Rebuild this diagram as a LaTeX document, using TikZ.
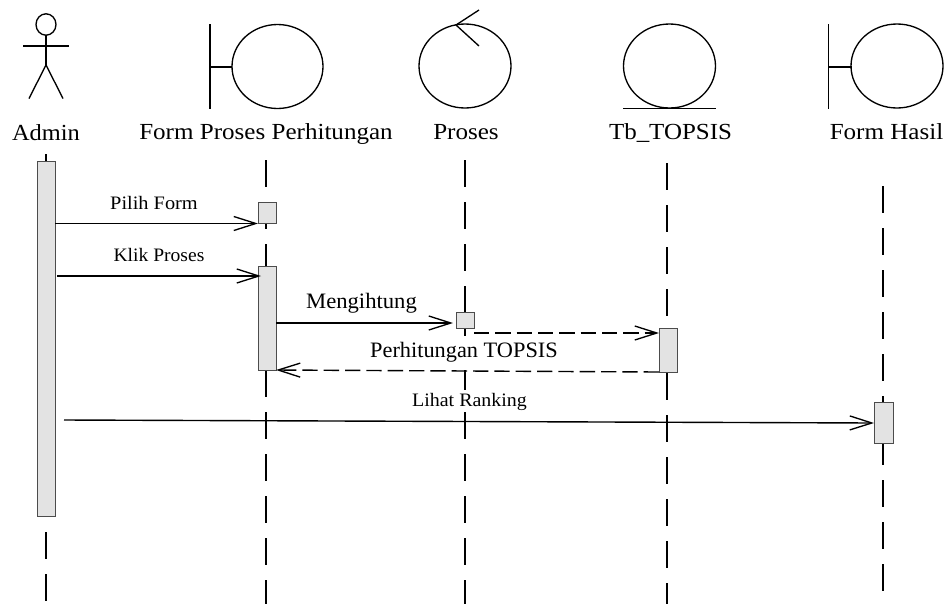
\documentclass[tikz,border=0pt]{standalone}
\usepackage{graphicx}
\usepackage{fontspec}
\setmainfont{Liberation Serif}
\usetikzlibrary{arrows.meta}
\newcommand{\sx}[2]{\scalebox{#1}[1]{#2}}
\tikzset{
  x=0.75pt,y=-0.75pt,
  icon/.style={draw=black,line width=1pt},
  life/.style={draw=black,line width=1pt,dash pattern=on 20.25pt off 11.25pt},
  bar/.style={draw=black!70,fill=black!11,line width=0.75pt,rectangle,inner sep=0pt,outer sep=0pt,anchor=north west},
  msg/.style={draw=black,line width=1.05pt,-{Straight Barb[length=16.5pt,width=10.5pt,line width=1pt]}},
  dmsg/.style={msg,dash pattern=on 11.5pt off 4.5pt},
  head/.style={anchor=base,inner sep=0pt,font=\fontsize{17.25pt}{20pt}\selectfont},
  small/.style={anchor=base,inner sep=0pt,font=\fontsize{14.25pt}{17pt}\selectfont},
  mid/.style={anchor=base,inner sep=0pt,font=\fontsize{16.5pt}{19pt}\selectfont},
}
\begin{document}
\begin{tikzpicture}
\useasboundingbox (0,0) rectangle (945,604);
\fill[white] (0,0) rectangle (945,604);
% actor
\draw[icon] (46,24.5) ellipse [x radius=10,y radius=10.7];
\draw[icon] (23,46) -- (69,46);
\draw[icon] (46,35) -- (46,65);
\draw[icon] (29,98.5) -- (46,65) -- (63,98.5);
% boundary 1
\draw[icon] (210,24) -- (210,109);
\draw[icon] (210,67) -- (232,67);
\draw[icon] (277.5,66.5) ellipse [x radius=45.5,y radius=42];
% control
\draw[icon] (465,66) ellipse [x radius=46,y radius=42];
\draw[icon] (479,10) -- (456,25) -- (479,46);
% entity
\draw[icon] (669.5,66) ellipse [x radius=46,y radius=42];
\draw[icon] (623,108.5) -- (716,108.5);
\draw[icon,line width=1.4pt] (623,108.5) -- (669,108.5);
% boundary 2
\draw[icon] (828.5,24) -- (828.5,109);
\draw[icon] (828.5,67) -- (851.5,67);
\draw[icon] (897,66) ellipse [x radius=46,y radius=42];
% head labels
\node[head] (lAdmin) at (46,140) {\sx{1.06}{Admin}};
\node[head] (lForm) at (266,139) {\sx{1.09}{Form Proses Perhitungan}};
\node[head] (lProses) at (466,139) {\sx{1.09}{Proses}};
\node[head] (lTb) at (670.5,139) {\sx{1.085}{Tb\_TOPSIS}};
\node[head] (lHasil) at (886.5,139) {\sx{1.09}{Form Hasil}};
% lifeline ends
\coordinate (sA) at (46,154);   \coordinate (eA) at (46,604);
\coordinate (sF) at (266,160);  \coordinate (eF) at (266,604);
\coordinate (sP) at (465,160);  \coordinate (eP) at (465,604);
\coordinate (sT) at (667,163);  \coordinate (eT) at (667,604);
\coordinate (sH) at (883,186);  \coordinate (eH) at (883,591);
\draw[life] (sA) -- (eA);
\draw[life] (sF) -- (eF);
\draw[life] (sP) -- (eP);
\draw[life] (sT) -- (eT);
\draw[life] (sH) -- (eH);
% label backgrounds hiding the lifeline
\fill[white] (370,335.5) rectangle (558,366);
\fill[white] (412,390) rectangle (527,412);
% activation bars
\node[bar,minimum width=13.5pt,minimum height=266.25pt] (barA) at (37,161) {};
\node[bar,minimum width=13.5pt,minimum height=15.75pt] (barF1) at (258,202.5) {};
\node[bar,minimum width=13.5pt,minimum height=78pt] (barF2) at (258,266) {};
\node[bar,minimum width=13.5pt,minimum height=12pt] (barP) at (456,312.5) {};
\node[bar,minimum width=13.5pt,minimum height=33pt] (barT) at (659,328) {};
\node[bar,minimum width=14.25pt,minimum height=30.75pt] (barH) at (874,402) {};
% message ends
\coordinate (m1s) at (barA.east |- 0,223.5);
\coordinate (m1e) at (barF1.south west);
\coordinate (m2s) at (57,276);
\coordinate (m2e) at (261,276);
\coordinate (m3s) at (barF2.east |- 0,323);
\coordinate (m3e) at (453,323);
\coordinate (m4s) at (barP.east |- 0,333);
\coordinate (m4e) at (barT.west |- 0,333);
\coordinate (m5s) at (barT.south west);
\coordinate (m5e) at (barF2.south east);
\coordinate (m6s) at (64,420);
\coordinate (m6e) at (barH.west |- 0,423);
\draw[msg] (m1s) -- (m1e);
\draw[msg] (m2s) -- (m2e);
\draw[msg] (m3s) -- (m3e);
\draw[dmsg] (m4s) -- (m4e);
\draw[dmsg] (m5s) -- (m5e);
\draw[msg] (m6s) -- (m6e);
% message labels
\node[small] (t1) at (154,209) {\sx{1.07}{Pilih Form}};
\node[small] (t2) at (159,261) {\sx{1.03}{Klik Proses}};
\node[mid] (t3) at (361.5,308) {\sx{1.03}{Mengihtung}};
\node[mid] (t4) at (464,357) {\sx{1.015}{Perhitungan TOPSIS}};
\node[small] (t5) at (469.5,406.5) {\sx{1.05}{Lihat Ranking}};
\end{tikzpicture}
\end{document}
